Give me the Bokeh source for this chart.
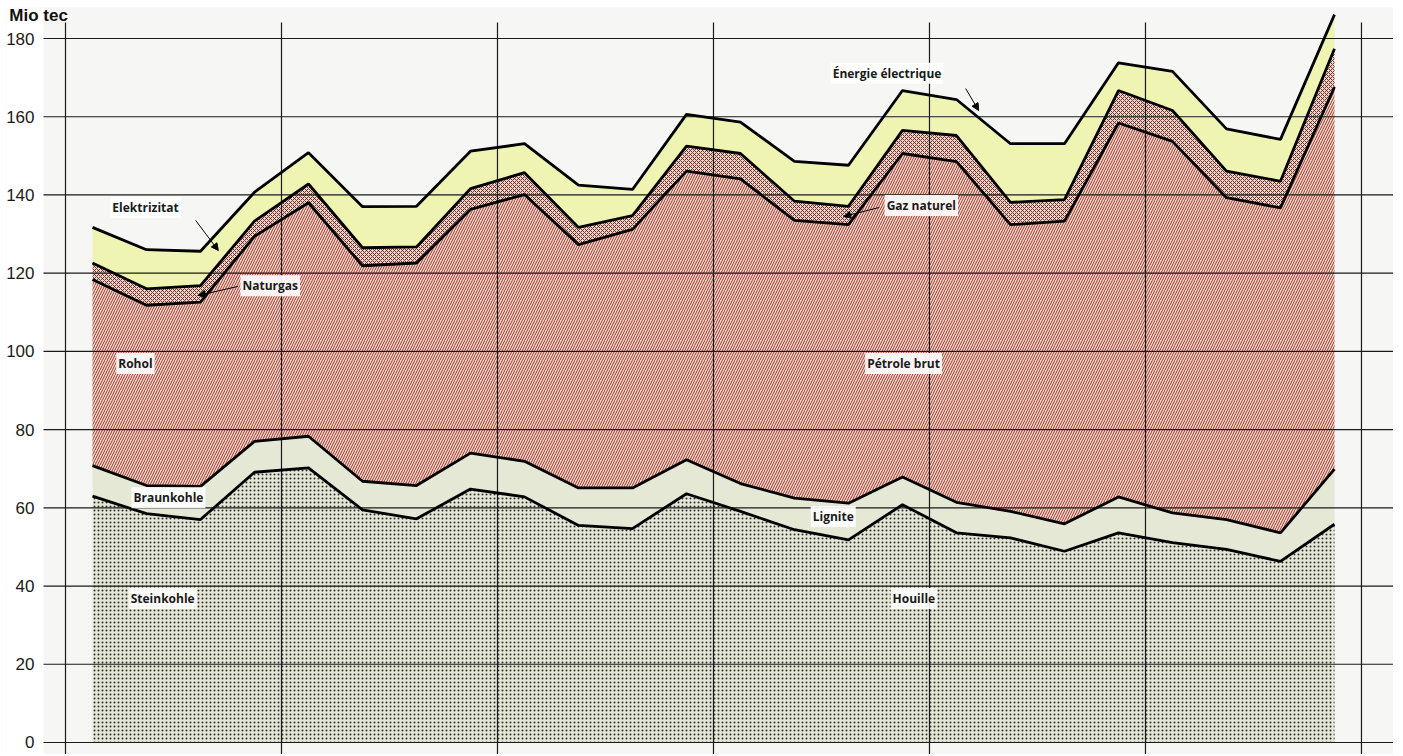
import numpy as np
from bokeh.plotting import figure
from bokeh.models import Range1d, Label, Arrow, NormalHead, FixedTicker
from bokeh.embed import file_html
from bokeh.resources import INLINE

# ---- data (Mio tec, quarterly, 6 years) ----
quarter_index = list(range(24))
year_bounds = [0, 4, 8, 12, 16, 20, 24]
y_ticks = [0, 20, 40, 60, 80, 100, 120, 140, 160, 180]

steinkohle = [63.0, 58.5, 57.0, 69.1, 70.2, 59.5, 57.2, 64.8, 62.8, 55.5, 54.7, 63.6,
              59.1, 54.4, 51.8, 60.8, 53.6, 52.3, 48.9, 53.6, 51.1, 49.4, 46.3, 55.8]
braunkohle = [7.8, 7.2, 8.5, 7.9, 8.1, 7.3, 8.5, 9.2, 9.1, 9.6, 10.4, 8.7,
              7.1, 8.1, 9.4, 7.1, 7.8, 6.8, 7.0, 9.2, 7.6, 7.6, 7.3, 14.1]
rohoel = [47.6, 46.1, 47.1, 52.4, 59.7, 55.1, 56.9, 62.3, 68.2, 62.2, 66.1, 73.8,
          77.9, 71.0, 71.2, 82.7, 87.1, 73.3, 77.4, 95.6, 95.0, 82.3, 83.1, 97.7]
naturgas = [4.2, 4.2, 4.2, 3.9, 4.8, 4.6, 4.1, 5.3, 5.6, 4.4, 3.5, 6.4,
            6.5, 4.9, 4.7, 5.9, 6.7, 5.7, 5.5, 8.3, 7.9, 6.8, 6.8, 9.8]
elektrizitaet = [9.1, 10.0, 8.8, 7.4, 8.0, 10.5, 10.4, 9.6, 7.4, 10.8, 6.7, 8.1,
                 8.0, 10.2, 10.5, 10.2, 9.2, 15.0, 14.3, 7.1, 10.0, 10.8, 10.7, 8.7]

# ---- derived stacks ----
x = np.array(quarter_index) + 0.5
s1 = np.array(steinkohle)
s2 = s1 + np.array(braunkohle)
s3 = s2 + np.array(rohoel)
s4 = s3 + np.array(naturgas)
s5 = s4 + np.array(elektrizitaet)
zero = np.zeros_like(s1)

X0, X1 = -1.0926, 24.593
Y0, Y1 = -3.07, 187.93
p = figure(width=1393, height=754, output_backend="svg", toolbar_location=None,
           x_range=Range1d(X0, X1), y_range=Range1d(Y0, Y1),
           x_axis_location=None, min_border_left=6, min_border_right=0,
           min_border_top=7, min_border_bottom=0)
p.background_fill_color = "#f6f6f5"
p.border_fill_color = "white"
p.outline_line_color = None
p.xgrid.visible = False
p.ygrid.visible = False

p.yaxis.ticker = FixedTicker(ticks=y_ticks)
p.yaxis.axis_line_color = None
p.yaxis.major_tick_line_color = None
p.yaxis.minor_tick_line_color = None
p.yaxis.major_tick_in = 0
p.yaxis.major_tick_out = 0
p.yaxis.major_label_standoff = -28
p.yaxis.major_label_text_font = "Liberation Sans"
p.yaxis.major_label_text_font_size = "17px"
p.yaxis.major_label_text_color = "#1a1a1a"

# white strip behind the tick labels
p.varea(x=[X0, -0.407], y1=[Y0, Y0], y2=[Y1, Y1], fill_color="white")

# areas
p.varea(x=x, y1=zero, y2=s1, fill_color="#e4e6d6", hatch_pattern="dot",
        hatch_color="#2e2e2e", hatch_scale=4, hatch_weight=2.6)
p.varea(x=x, y1=s1, y2=s2, fill_color="#e5e8d5")
p.varea(x=x, y1=s2, y2=s3, fill_color="#f8d6cb", hatch_pattern="/",
        hatch_color="#9a3a30", hatch_scale=5, hatch_weight=1.0)
p.varea(x=x, y1=s3, y2=s4, fill_color="#f3d2c8", hatch_pattern="x",
        hatch_color="#5a2520", hatch_scale=4, hatch_weight=0.9)
p.varea(x=x, y1=s4, y2=s5, fill_color="#eff4b2")

# horizontal grid lines and vertical year lines
p.segment(x0=[-0.407] * len(y_ticks), y0=y_ticks, x1=[X1] * len(y_ticks), y1=y_ticks,
          line_color="#1a1a1a", line_width=1.2)
p.segment(x0=year_bounds, y0=-4, x1=year_bounds, y1=184.1,
          line_color="#1a1a1a", line_width=1.2)

for top in (s1, s2, s3, s4, s5):
    p.line(x=x, y=top, line_color="black", line_width=2.8)

FONT = "Open Sans"
def lab(xv, yv, txt, size="12px"):
    p.add_layout(Label(x=xv, y=yv, text=txt, text_font=FONT, text_font_size=size,
                       text_font_style="bold", text_color="#1a1a1a",
                       text_baseline="middle", text_align="left",
                       background_fill_color="white", background_fill_alpha=0.9,
                       padding=2))

lab(0.83, 136.8, "Elektrizitat")
lab(3.24, 116.8, "Naturgas")
lab(0.94, 96.9, "Rohol")
lab(1.22, 62.6, "Braunkohle")
lab(1.17, 36.8, "Steinkohle")
lab(14.17, 171.1, "Énergie électrique")
lab(15.17, 137.3, "Gaz naturel")
lab(14.81, 96.9, "Pétrole brut")
lab(13.8, 57.8, "Lignite")
lab(15.28, 36.8, "Houille")

def arrow(x0, y0, x1, y1):
    p.add_layout(Arrow(end=NormalHead(size=7, fill_color="black", line_color="black"),
                       x_start=x0, y_start=y0, x_end=x1, y_end=y1,
                       line_color="black", line_width=1))

arrow(2.41, 133.5, 2.83, 125.8)
arrow(3.19, 116.6, 2.46, 114.3)
arrow(16.67, 167.2, 16.91, 161.6)
arrow(15.07, 136.8, 14.41, 134.5)

p.add_layout(Label(x=-1.04, y=185.9, text="Mio tec", text_font="Liberation Sans",
                   text_font_size="17px", text_font_style="bold", text_color="#111",
                   text_baseline="middle", text_align="left"))

open("out.html", "w").write(file_html(p, INLINE))
